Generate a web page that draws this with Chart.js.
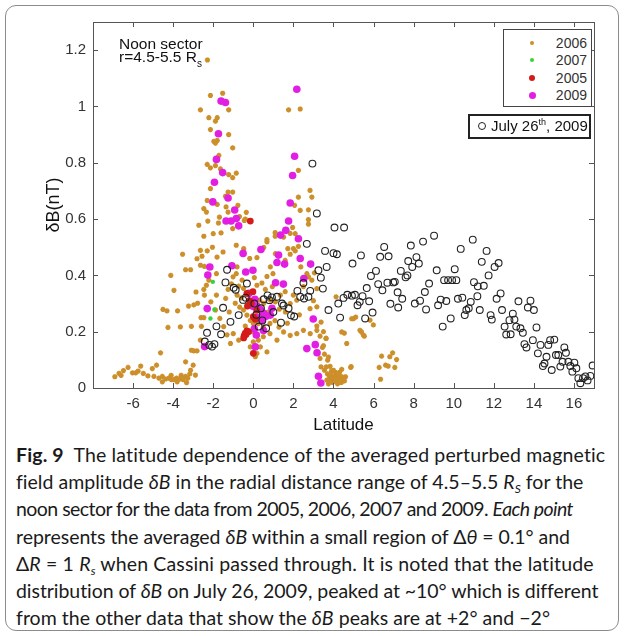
<!DOCTYPE html>
<html>
<head>
<meta charset="utf-8">
<script src="https://cdn.jsdelivr.net/npm/chart.js@4.4.0/dist/chart.umd.min.js"></script>
<style>
  body { margin: 0; width: 624px; height: 636px; background: #fff; position: relative; overflow: hidden; font-family: "Liberation Sans", Arial, sans-serif; }
  #moldura { position: absolute; left: 5px; top: 5px; width: 612px; height: 624px; border: 1px solid #8c8c8c; border-radius: 11px; }
  #caixaGrafico { position: absolute; left: 0; top: 0; width: 624px; height: 440px; }
  .nota { position: absolute; left: 119px; color: #111; font-size: 15.5px; line-height: 14px; white-space: nowrap; }
  .nota sub { font-size: 10px; position: relative; top: 5px; vertical-align: baseline; }
  .legenda { position: absolute; background: #fff; color: #333; }
  .legenda sup { font-size: 9px; line-height: 0; }
  .marca { position: absolute; border-radius: 50%; }
  #legenda { left: 503px; top: 29px; width: 87px; height: 76px; border: 1.5px solid #444; font-size: 14px; }
  #legenda .e { position: absolute; left: 0; width: 100%; height: 16px; }
  #legenda .e .txt { position: absolute; right: 4px; top: 0; line-height: 16px; }
  #legenda .e .marca { left: 26px; top: 6px; }
  #legenda .e:nth-child(1) { top: 5px; }
  #legenda .e:nth-child(2) { top: 22px; }
  #legenda .e:nth-child(3) { top: 40px; }
  #legenda .e:nth-child(4) { top: 57px; }
  #legenda-2006 { width: 4px; height: 4px; background: #cc8f2a; }
  #legenda-2007 { width: 4px; height: 4px; background: #3ad13a; }
  #legenda-2005 { width: 6px; height: 6px; background: #d41a1a; margin: -1px 0 0 -1px; }
  #legenda-2009 { width: 7px; height: 7px; background: #e31ee3; margin: -1.5px 0 0 -1.5px; }
  #legendaJulho { left: 468px; top: 114px; width: 119px; height: 21px; border: 2px solid #222; font-size: 15px; color: #111; }
  #legenda-julho-circ { left: 8px; top: 6px; width: 6px; height: 6px; border: 1.3px solid #222; }
  #legendaJulho .txt { position: absolute; left: 21px; top: 2px; line-height: 16px; white-space: nowrap; }
  #texto { position: absolute; left: 16px; top: 441px; width: 604px; font-family: Lato, "Open Sans", sans-serif; font-size: 19.5px; line-height: 27.2px; color: #1a1a1a; }
  #texto div { white-space: nowrap; display: table; }
  #texto sub { font-size: 12px; vertical-align: -4px; line-height: 0; }
</style>
</head>
<body>
<div id="moldura"></div>
<div id="caixaGrafico"><canvas id="grafico"></canvas></div>

<div class="nota" style="top:37px">Noon sector</div>
<div class="nota" style="top:50px">r=4.5-5.5 R<sub>s</sub></div>

<div class="legenda" id="legenda">
  <div class="e"><span class="marca" id="legenda-2006"></span><span class="txt">2006</span></div>
  <div class="e"><span class="marca" id="legenda-2007"></span><span class="txt">2007</span></div>
  <div class="e"><span class="marca" id="legenda-2005"></span><span class="txt">2005</span></div>
  <div class="e"><span class="marca" id="legenda-2009"></span><span class="txt">2009</span></div>
</div>
<div class="legenda" id="legendaJulho">
  <span class="marca" id="legenda-julho-circ"></span><span class="txt">July 26<sup>th</sup>, 2009</span>
</div>

<div id="texto">
  <div data-w="590"><b>Fig. 9</b>&nbsp; The latitude dependence of the averaged perturbed magnetic</div>
  <div data-w="567">field amplitude <i>δB</i> in the radial distance range of 4.5–5.5 <i>R<sub>S</sub></i> for the</div>
  <div data-w="557">noon sector for the data from 2005, 2006, 2007 and 2009. <i>Each point</i></div>
  <div data-w="554">represents the averaged <i>δB</i> within a small region of Δ<i>θ</i> = 0.1° and</div>
  <div data-w="578">Δ<i>R</i> = 1 <i>R<sub>s</sub></i> when Cassini passed through. It is noted that the latitude</div>
  <div data-w="582">distribution of <i>δB</i> on July 26, 2009, peaked at ~10° which is different</div>
  <div data-w="534">from the other data that show the <i>δB</i> peaks are at +2° and −2°</div>
</div>

<script>
const ticksX = [-6, -4, -2, 0, 2, 4, 6, 8, 10, 12, 14, 16];
const ticksY = [0, 0.2, 0.4, 0.6, 0.8, 1, 1.2];

// [latitude, deltaB]
const pontos2006 = [
  [-2.29,1.165],[-2.14,1.039],[-1.53,1.047],[-2.64,0.988],[-1.23,0.988],[-2.22,0.96],[-1.8,0.96],[-1.89,0.948],
  [-2.14,0.918],[-1.23,0.9],[-1.97,0.876],[-1.8,0.879],[-1.89,0.87],[-1.03,0.853],[-1.72,0.826],[-2.3,0.794],
  [-2.14,0.782],[-1.89,0.79],[-1.64,0.778],[-1.23,0.758],[-0.85,0.763],[-1.03,0.747],[-2.14,0.708],[-1.26,0.696],
  [-1.03,0.696],[-2.3,0.666],[-1.8,0.652],[-1.39,0.681],[-2.47,0.637],[-2.34,0.625],[-1.36,0.643],[-0.77,0.649],
  [-1.26,0.625],[-0.35,0.624],[-1.69,0.607],[-0.69,0.609],[-2.72,0.578],[-2.27,0.593],[-1.74,0.586],[-1.03,0.566],
  [-0.45,0.595],[-2.47,0.539],[-2.0,0.548],[-1.61,0.551],
  [-2.64,0.489],[-2.3,0.487],[-2.04,0.5],[-1.81,0.465],[-1.51,0.483],[-0.85,0.507],[-0.48,0.495],[-3.53,0.475],
  [-2.81,0.459],[-2.64,0.436],[-2.44,0.432],[-2.56,0.468],[-1.84,0.406],[-3.38,0.42],[-3.13,0.42],[-4.12,0.4],
  [-3.96,0.347],[-2.86,0.341],[-2.47,0.35],[-2.34,0.365],[-2.22,0.383],[-1.84,0.33],[-1.38,0.318],[-1.26,0.35],
  [-1.09,0.37],[-1.01,0.395],[-0.85,0.406],[-4.51,0.279],[-4.31,0.274],[-3.78,0.274],[-3.23,0.291],[-2.97,0.295],
  [-2.61,0.25],[-2.47,0.25],[-4.26,0.215],[-3.64,0.217],[-3.09,0.219],[-2.59,0.219],[-2.64,0.17],[-4.63,0.125],
  [-3.09,0.134],[-2.97,0.132],[-2.81,0.132],[-3.38,0.093],[-3.0,0.081],[-3.13,0.063],
  [-6.91,0.04],[-6.7,0.052],[-6.48,0.062],[-6.25,0.073],[-6.03,0.054],[-5.87,0.054],[-5.62,0.078],[-5.49,0.052],
  [-5.26,0.043],[-5.04,0.069],[-4.96,0.041],[-4.83,0.081],[-4.71,0.035],[-4.54,0.041],[-4.38,0.032],[-4.21,0.035],
  [-4.09,0.03],[-3.96,0.03],[-3.83,0.035],[-3.66,0.032],[-3.5,0.03],[-3.38,0.041],[-3.27,0.035],[-3.17,0.05],
  [-2.89,0.046],[-4.54,0.022],[-3.8,0.022],[-3.33,0.019],[-6.6,0.045],[-5.75,0.06],[-4.1,0.045],[-3.6,0.045],
  [-0.81,0.43],[-0.56,0.383],[-0.73,0.362],[-0.49,0.354],[0.05,0.392],[0.18,0.365],[0.43,0.373],[0.68,0.396],
  [0.98,0.406],[0.68,0.519],[0.52,0.499],[0.18,0.463],[-0.18,0.46],[0.85,0.43],[1.1,0.477],[1.51,0.536],
  [2.09,0.548],[2.0,0.495],[2.37,0.43],[2.67,0.406],[2.5,0.36],[2.17,0.312],[1.84,0.3],[2.0,0.33],
  [1.59,0.342],[1.35,0.33],[1.1,0.306],[0.85,0.312],[0.52,0.301],[0.32,0.312],[-0.15,0.301],[-0.32,0.289],
  [-0.49,0.277],[-0.68,0.287],[-0.9,0.301],[-0.32,0.259],[-0.15,0.24],[0.0,0.229],[0.25,0.229],[0.5,0.216],
  [0.83,0.229],[1.08,0.239],[1.28,0.216],[1.51,0.199],[1.84,0.187],[2.17,0.193],[2.5,0.205],[2.84,0.193],
  [0.83,0.193],[0.5,0.182],[0.25,0.17],[0.0,0.164],[0.35,0.146],[-0.15,0.146],[0.18,0.123],[0.1,0.111],
  [0.68,0.128],[1.18,0.17],[-1.0,0.193],[-0.73,0.17],[-1.14,0.158],[-1.31,0.189],[-1.48,0.218],[-1.67,0.247],
  [-1.89,0.277],[-2.12,0.306],[-2.44,0.33],[-2.78,0.301],[-0.81,0.33],
  [-0.6,0.32],[0.6,0.35],[0.95,0.36],[1.6,0.27],[1.7,0.23],[0.4,0.26],[-0.05,0.2],[0.75,0.27],
  [1.3,0.28],[2.3,0.26],[-1.2,0.27],[-0.4,0.22],
  [1.76,0.988],[2.34,0.991],[2.25,0.773],[2.83,0.702],[2.92,0.678],[2.75,0.633],[2.25,0.678],[2.34,0.631],
  [2.06,0.649],[2.75,0.598],[2.75,0.582],[1.96,0.57],[1.84,0.549],[1.09,0.552],[-0.4,0.6],[0.68,0.527],
  [1.09,0.539],[1.72,0.495],[1.84,0.475],[1.59,0.453],[2.09,0.487],[2.25,0.503],[2.75,0.395],[2.92,0.383],
  [3.05,0.409],[3.17,0.353],[3.0,0.31],[2.83,0.282],[3.17,0.288],[3.38,0.234],[3.17,0.205],[3.63,0.176],
  [3.45,0.144],[3.55,0.12],[3.33,0.105],[3.71,0.099],[3.38,0.075],[3.55,0.063],[3.5,0.2],[3.17,0.22],
  [3.33,0.184],[3.5,0.15],[3.75,0.11],[3.83,0.077],[3.64,0.075],
  [3.7,0.05],[3.8,0.04],[3.85,0.03],[3.9,0.045],[3.95,0.02],[4.0,0.035],[4.05,0.025],[4.1,0.04],
  [4.15,0.03],[4.2,0.015],[4.25,0.035],[4.3,0.025],[4.35,0.04],[4.4,0.02],[4.45,0.03],[4.55,0.025],
  [3.75,0.015],[4.6,0.04],[3.9,0.06],[4.1,0.055],[4.3,0.055],[4.0,0.063],[4.2,0.051],[4.41,0.04],
  [4.08,0.035],[4.29,0.02],[3.67,0.028],
  [4.41,0.066],[4.88,0.076],[4.99,0.246],[5.11,0.252],[5.4,0.199],[5.54,0.184],[4.41,0.199],[4.54,0.195],
  [5.82,0.241],[5.99,0.224],[4.13,0.324],[4.91,0.246],[5.32,0.205],[5.49,0.188],[4.66,0.158],[4.86,0.073],
  [6.4,0.113],[6.6,0.081],[6.73,0.078],[6.81,0.111],[6.95,0.125],[7.15,0.101],[7.06,0.073],[6.28,0.073],
  [6.35,0.031],[3.63,0.176]
];

const pontos2007 = [[-2.02,0.377],[-1.94,0.279],[-2.14,0.247]];

const pontos2005 = [
  [-0.15,0.593],[-0.32,0.336],[-0.19,0.31],[-0.29,0.291],[-0.02,0.342],[0.0,0.253],[0.1,0.244],[0.17,0.276],
  [-0.32,0.203],[-0.41,0.194],[-0.46,0.185],[-0.36,0.19],[-0.24,0.2],[-0.48,0.178],[0.0,0.123],[-0.1,0.30]
];

const pontos2009 = [
  [-2.43,0.147],[-2.3,0.282],[-2.27,0.401],[-2.17,0.43],[-2.02,0.661],[-1.94,0.731],[-1.84,0.812],[-1.74,0.903],
  [-1.61,1.019],[-1.53,0.765],[-1.39,1.014],[-1.36,0.593],[-1.26,0.675],[-1.11,0.593],[-1.07,0.434],[-0.93,0.632],
  [-0.85,0.602],[-0.73,0.576],[-0.51,0.478],[-0.38,0.412],[-0.22,0.336],[-0.02,0.418],[-0.02,0.29],[0.05,0.21],
  [0.08,0.315],[0.1,0.146],[0.15,0.188],[0.18,0.291],[0.18,0.25],[0.35,0.279],[0.38,0.492],[0.43,0.241],
  [0.51,0.265],[0.51,0.204],[0.64,0.255],[0.85,0.259],[0.93,0.283],[1.11,0.374],[1.18,0.446],[1.26,0.472],
  [1.36,0.543],[1.5,0.369],[1.56,0.44],[1.62,0.56],[1.76,0.593],[1.84,0.657],[1.96,0.755],[2.06,0.823],
  [2.17,1.061],[2.25,0.53],[2.34,0.46],[2.52,0.389],[2.67,0.14],[2.86,0.44],[2.99,0.245],[3.09,0.154],
  [3.18,0.125],[3.25,0.042],[3.37,0.018]
];

const pontosJulho26 = [
  [-2.42,0.165],[-2.31,0.196],[-2.2,0.153],[-2.06,0.147],[-1.94,0.156],[-1.84,0.219],[-1.61,0.191],[-1.51,0.285],
  [-1.39,0.375],[-1.31,0.42],[-1.14,0.235],[-0.98,0.356],[-0.88,0.349],[-0.73,0.259],[-0.51,0.313],[-0.38,0.321],
  [-0.32,0.371],[0.27,0.218],[0.38,0.283],[0.52,0.315],[0.64,0.212],[0.71,0.329],[0.81,0.312],[0.93,0.322],
  [1.18,0.324],[1.38,0.232],[1.43,0.30],[1.51,0.293],[1.76,0.283],[1.88,0.258],[2.04,0.254],[2.2,0.345],
  [2.34,0.324],[2.5,0.373],[2.53,0.318],[2.75,0.324],[2.84,0.345],[2.67,0.512],[2.95,0.797],[3.17,0.62],
  [3.25,0.418],[3.37,0.392],[3.47,0.353],[3.58,0.487],[3.66,0.43],[3.75,0.277],[4.0,0.479],[4.05,0.57],
  [4.17,0.475],[4.24,0.30],[4.33,0.25],[4.5,0.32],[4.53,0.57],[4.69,0.331],[4.92,0.328],[4.95,0.442],
  [5.07,0.331],[5.2,0.294],[5.31,0.306],[5.37,0.471],[5.45,0.326],[5.58,0.247],[5.66,0.355],[5.78,0.308],
  [5.87,0.398],[5.95,0.268],[6.12,0.416],[6.23,0.369],[6.33,0.466],[6.44,0.347],[6.53,0.501],[6.69,0.374],
  [6.75,0.468],[6.84,0.299],[6.98,0.375],[0.05,0.30],[0.15,0.26],[1.0,0.27],[0.45,0.24],
  [7.06,0.377],[7.2,0.34],[7.43,0.317],[7.23,0.286],[7.36,0.416],[7.6,0.393],[7.69,0.40],[7.73,0.451],
  [7.93,0.43],[7.86,0.506],[8.14,0.465],[8.26,0.442],[8.47,0.52],[9.02,0.541],[8.06,0.30],[8.32,0.31],
  [8.56,0.341],[8.62,0.279],[8.77,0.371],[9.15,0.418],[9.22,0.294],[9.35,0.314],[9.63,0.309],[9.45,0.218],
  [9.52,0.383],[9.72,0.383],[9.92,0.383],[10.13,0.383],[10.05,0.422],[9.85,0.247],[10.21,0.317],[10.43,0.321],
  [10.35,0.494],[10.55,0.259],[10.63,0.277],[10.75,0.283],[10.85,0.306],[10.95,0.527],[11.01,0.376],[11.18,0.326],
  [11.2,0.361],[11.3,0.277],[11.4,0.448],[11.5,0.363],[11.64,0.487],[11.74,0.40],[11.84,0.259],[11.9,0.243],
  [12.04,0.43],[12.14,0.317],[12.24,0.444],[12.34,0.336],[12.41,0.277],[12.54,0.218],[12.62,0.19],[12.84,0.191],
  [12.78,0.241],[12.95,0.264],[13.03,0.243],[13.12,0.218],[13.23,0.308],[13.33,0.212],[13.45,0.196],[13.53,0.156],
  [13.63,0.144],[13.7,0.286],[13.83,0.31],[14.0,0.277],[13.95,0.17],[14.13,0.215],[14.2,0.123],[14.33,0.153],
  [14.45,0.078],[14.53,0.087],[14.63,0.111],[14.72,0.153],[14.81,0.17],[14.89,0.064],[15.02,0.172],[15.1,0.117],
  [15.22,0.117],[15.32,0.076],[15.43,0.093],[15.52,0.144],[15.6,0.125],[15.72,0.093],[15.82,0.078],[15.92,0.058],
  [16.02,0.09],[16.12,0.07],[16.22,0.035],[16.32,0.017],[16.45,0.035],[16.57,0.041],[16.68,0.027],[16.82,0.043],
  [16.93,0.08]
];

const corEixo = "#555";

function paraXY(lista) {
  return lista.map(p => ({ x: p[0], y: p[1] }));
}

// acerta a largura de cada linha da legenda da figura
document.querySelectorAll("#texto div").forEach(linha => {
  const alvo = Number(linha.dataset.w);
  const n = linha.textContent.length;
  const largura = linha.getBoundingClientRect().width;
  linha.style.letterSpacing = ((alvo - largura) / n).toFixed(3) + "px";
});

// caixa do gráfico com ticks para dentro
const caixaTicks = {
  id: "caixaTicks",
  afterDatasetsDraw(chart) {
    const { ctx, chartArea: a, scales } = chart;
    const tam = 5;
    ctx.save();
    ctx.strokeStyle = corEixo;
    ctx.lineWidth = 1;
    ctx.strokeRect(Math.round(a.left) + 0.5, Math.round(a.top) + 0.5, Math.round(a.right - a.left), Math.round(a.bottom - a.top));
    ctx.beginPath();
    ticksX.forEach(v => {
      const px = Math.round(scales.x.getPixelForValue(v)) + 0.5;
      ctx.moveTo(px, a.bottom); ctx.lineTo(px, a.bottom - tam);
      ctx.moveTo(px, a.top); ctx.lineTo(px, a.top + tam);
    });
    ticksY.forEach(v => {
      const py = Math.round(scales.y.getPixelForValue(v)) + 0.5;
      ctx.moveTo(a.left, py); ctx.lineTo(a.left + tam, py);
      ctx.moveTo(a.right, py); ctx.lineTo(a.right - tam, py);
    });
    ctx.stroke();
    ctx.restore();
  }
};

const fonteTicks = { family: "'Liberation Sans', Arial, sans-serif", size: 15 };

new Chart(document.getElementById("grafico"), {
  type: "scatter",
  data: {
    datasets: [
      {
        label: "July 26th, 2009",
        data: paraXY(pontosJulho26),
        pointStyle: "circle",
        pointRadius: 3.4,
        backgroundColor: "rgba(0,0,0,0)",
        borderColor: "#222",
        borderWidth: 1.1,
        order: 1
      },
      {
        label: "2007",
        data: paraXY(pontos2007),
        pointRadius: 2.2,
        backgroundColor: "#3ad13a",
        borderWidth: 0,
        order: 2
      },
      {
        label: "2005",
        data: paraXY(pontos2005),
        pointRadius: 3.4,
        backgroundColor: "#d41a1a",
        borderWidth: 0,
        order: 3
      },
      {
        label: "2009",
        data: paraXY(pontos2009),
        pointRadius: 3.8,
        backgroundColor: "#e31ee3",
        borderWidth: 0,
        order: 4
      },
      {
        label: "2006",
        data: paraXY(pontos2006),
        pointStyle: "star",
        pointRadius: 2.6,
        backgroundColor: "#cc8f2a",
        borderColor: "#cc8f2a",
        borderWidth: 1.6,
        order: 5
      }
    ]
  },
  options: {
    responsive: true,
    maintainAspectRatio: false,
    animation: false,
    events: [],
    layout: { padding: { left: 0, right: 30, top: 22, bottom: 0 } },
    plugins: {
      legend: { display: false },
      tooltip: { enabled: false }
    },
    scales: {
      x: {
        type: "linear",
        min: -8,
        max: 17,
        afterBuildTicks: s => { s.ticks = ticksX.map(v => ({ value: v })); },
        afterFit: s => { s.height = 52; },
        grid: { display: false, drawTicks: false },
        border: { display: false },
        ticks: { padding: 7, color: "#333", font: fonteTicks, autoSkip: false, maxRotation: 0, callback: v => String(v) },
        title: { display: true, text: "Latitude", color: "#111", font: { family: "'Liberation Sans', Arial, sans-serif", size: 17 }, padding: { top: 0, bottom: 4 } }
      },
      y: {
        type: "linear",
        min: 0,
        max: 1.3,
        afterBuildTicks: s => { s.ticks = ticksY.map(v => ({ value: v })); },
        afterFit: s => { s.width = 93; },
        grid: { display: false, drawTicks: false },
        border: { display: false },
        ticks: { padding: 7, color: "#333", font: fonteTicks, autoSkip: false, callback: v => String(v) },
        title: { display: true, text: "δB(nT)", color: "#111", font: { family: "'Liberation Sans', Arial, sans-serif", size: 18 }, padding: { top: 43, bottom: 0 } }
      }
    }
  },
  plugins: [caixaTicks]
});
</script>
</body>
</html>
